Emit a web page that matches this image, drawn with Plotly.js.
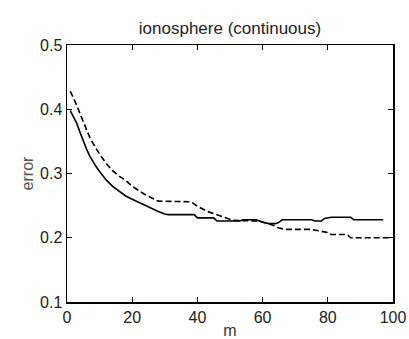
<!DOCTYPE html>
<html>
<head>
<meta charset="utf-8">
<script src="https://cdn.plot.ly/plotly-3.0.1.min.js"></script>
<style>html,body{margin:0;padding:0;background:#fff;}#chart{width:409px;height:339px;}</style>
</head>
<body>
<div id="chart"></div>
<script>
const chartTitle = "ionosphere (continuous)";
const xLabel = "m";
const yLabel = "error";

const mSolid = [1, 2, 3, 4, 5, 6, 7, 8, 9, 10, 12, 14, 16, 18, 20, 22, 24, 26, 28, 30, 31, 39, 40, 45, 46, 53, 54, 58, 59, 60, 62, 64, 65, 66, 75, 76, 78, 79, 81, 87, 88, 97];
const errSolid = [0.398, 0.388, 0.378, 0.364, 0.350, 0.338, 0.327, 0.318, 0.310, 0.303, 0.290, 0.280, 0.272, 0.265, 0.260, 0.255, 0.251, 0.246, 0.241, 0.237, 0.236, 0.236, 0.231, 0.231, 0.226, 0.226, 0.228, 0.228, 0.226, 0.224, 0.222, 0.222, 0.224, 0.228, 0.228, 0.226, 0.226, 0.230, 0.232, 0.232, 0.228, 0.228];

const mDash = [1, 2, 3, 4, 5, 6, 7, 8, 9, 10, 12, 14, 16, 18, 20, 22, 24, 26, 28, 38, 40, 43, 46, 49, 51, 59, 63, 65, 67, 75, 78, 80, 81, 86, 87, 99];
const errDash = [0.428, 0.418, 0.406, 0.393, 0.380, 0.367, 0.356, 0.347, 0.338, 0.330, 0.316, 0.304, 0.296, 0.289, 0.280, 0.273, 0.267, 0.262, 0.257, 0.256, 0.249, 0.241, 0.236, 0.231, 0.227, 0.226, 0.220, 0.215, 0.213, 0.213, 0.210, 0.208, 0.205, 0.205, 0.200, 0.200];

const xTicks = [0, 20, 40, 60, 80, 100];
const yTicks = [0.1, 0.2, 0.3, 0.4, 0.5];
const yTickText = ["0.1", "0.2", "0.3", "0.4", "0.5"];

const FONT = "Liberation Sans, Arial, sans-serif";

const traces = [
  {x: mSolid, y: errSolid, mode: "lines", line: {color: "#000", width: 1.6}, hoverinfo: "skip"},
  {x: mDash, y: errDash, mode: "lines", line: {color: "#000", width: 1.6, dash: "6px,3px"}, hoverinfo: "skip"}
];

const axisCommon = {
  showline: true, linecolor: "#000", linewidth: 1.5, mirror: "ticks",
  ticks: "inside", ticklen: 5, tickwidth: 1, tickcolor: "#000",
  showgrid: false, zeroline: false,
  tickfont: {family: FONT, size: 16, color: "#222"}
};

const layout = {
  width: 409, height: 339,
  margin: {l: 67, r: 16, t: 45, b: 37},
  paper_bgcolor: "#fff", plot_bgcolor: "#fff",
  showlegend: false,
  title: {text: chartTitle, font: {family: FONT, size: 17, color: "#222"}, x: 0.5, xref: "paper", xanchor: "center", y: 0.917, yref: "container", yanchor: "middle"},
  xaxis: Object.assign({}, axisCommon, {range: [0, 100], tickvals: xTicks, ticktext: xTicks.map(String), title: {text: xLabel, font: {family: FONT, size: 16, color: "#333"}, standoff: 0}}),
  yaxis: Object.assign({}, axisCommon, {range: [0.1, 0.5], tickvals: yTicks, ticktext: yTickText, title: {text: yLabel, font: {family: FONT, size: 16, color: "#555"}, standoff: 2}})
};

Plotly.newPlot("chart", traces, layout, {staticPlot: true, displayModeBar: false});
</script>
</body>
</html>
